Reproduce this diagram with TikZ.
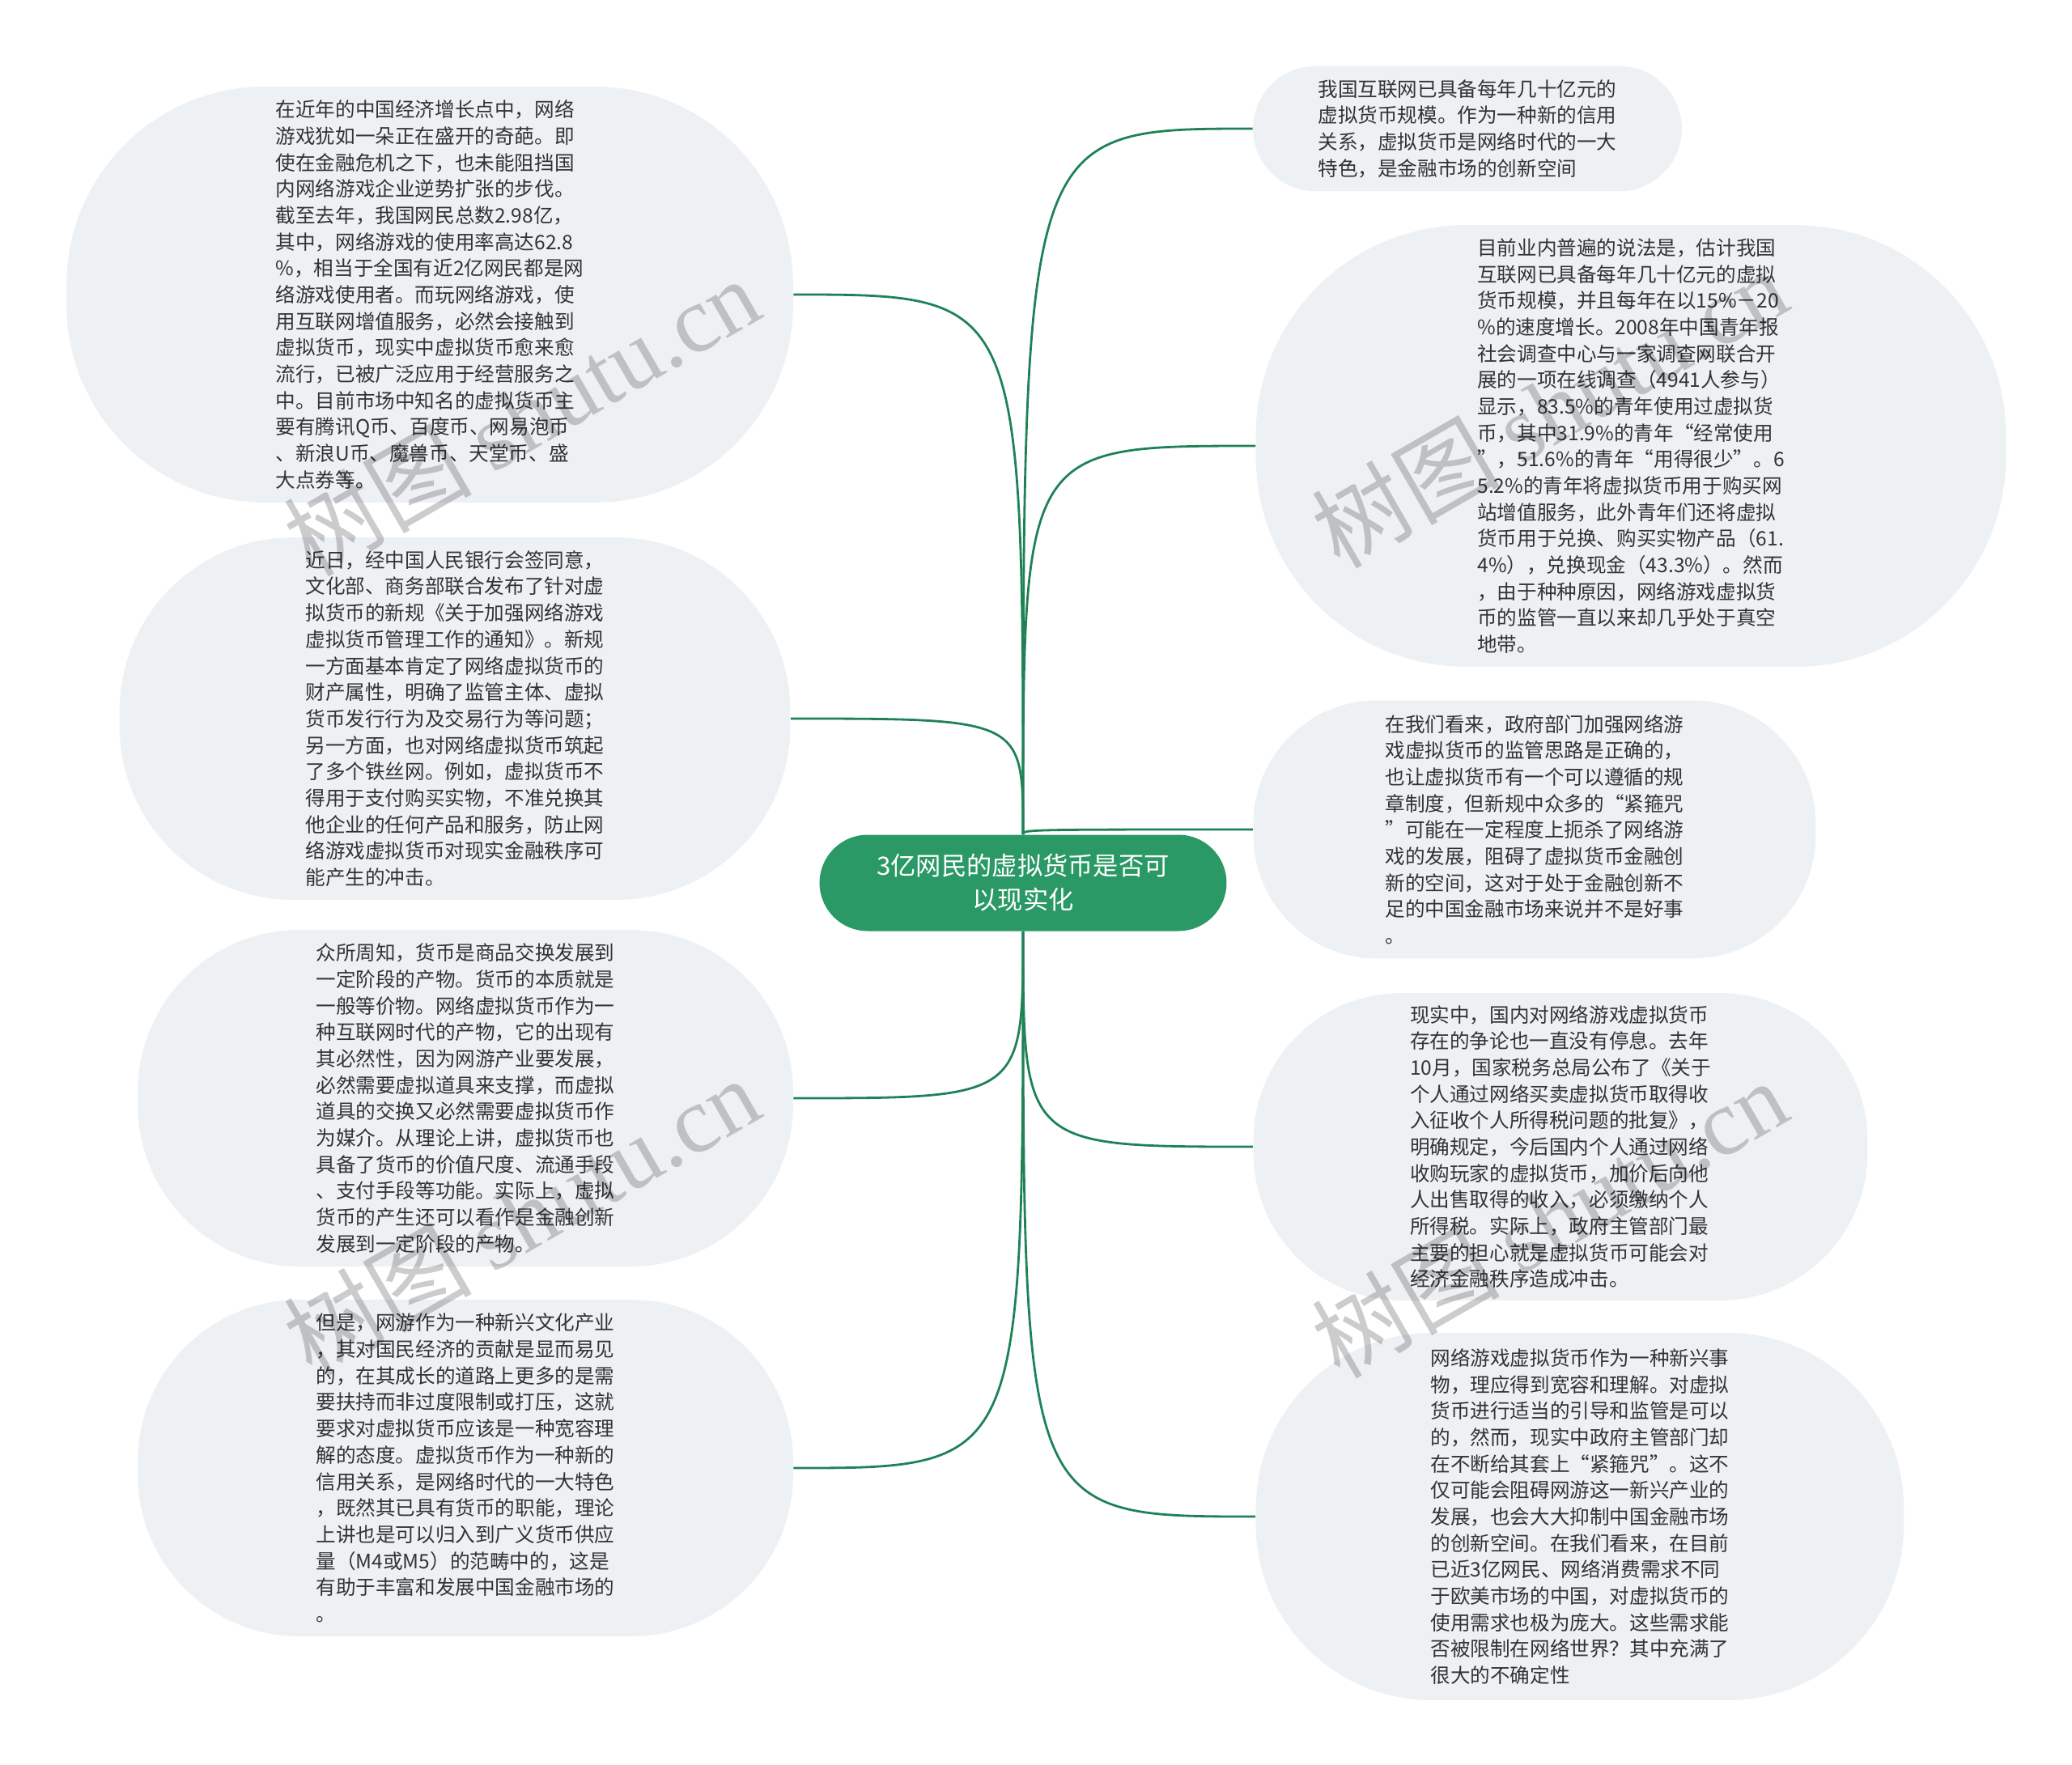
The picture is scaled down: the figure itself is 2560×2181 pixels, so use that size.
\documentclass[tikz,border=0pt]{standalone}
\usepackage{fontspec}
\usepackage{xcolor}
\usepackage{tikz}
\usetikzlibrary{positioning, backgrounds}

\newfontfamily\cjk{Noto Sans CJK SC}
\newfontfamily\wmserif{Liberation Serif}

\definecolor{rootgreen}{HTML}{2A9966}
\definecolor{linkgreen}{HTML}{1F8257}
\definecolor{leafgray}{HTML}{EEF1F4}
\definecolor{leaftext}{HTML}{333333}

\begin{document}
\begin{tikzpicture}[
    x=0.02cm, y=-0.02cm,
    leaf/.style={rectangle, rounded corners=#1, fill=leafgray, align=left,
      text=leaftext, inner sep=0pt, font=\cjk\fontsize{14pt}{18.6pt}\selectfont},
    root/.style={rectangle, rounded corners=1.19cm, fill=rootgreen, align=center,
      text=white, minimum width=10.06cm, minimum height=2.38cm,
      font=\cjk\fontsize{17.8pt}{24pt}\selectfont},
    link/.style={draw=linkgreen, line width=1.6pt},
    wmark/.style={text=black, text opacity=0.2, rotate=30,
      font=\cjk\fontsize{66pt}{68pt}\selectfont}
]
\useasboundingbox (0,0) rectangle (2560,2181);

\node (root) [root] at (1264,1091) {3亿网民的虚拟货币是否可\\以现实化};

% left side
\node (boom) [leaf=4.9cm, minimum width=17.96cm, minimum height=10.28cm] at (531,364) {在近年的中国经济增长点中，网络\\游戏犹如一朵正在盛开的奇葩。即\\使在金融危机之下，也未能阻挡国\\内网络游戏企业逆势扩张的步伐。\\截至去年，我国网民总数2.98亿，\\其中，网络游戏的使用率高达62.8\\\%，相当于全国有近2亿网民都是网\\络游戏使用者。而玩网络游戏，使\\用互联网增值服务，必然会接触到\\虚拟货币，现实中虚拟货币愈来愈\\流行，已被广泛应用于经营服务之\\中。目前市场中知名的虚拟货币主\\要有腾讯Q币、百度币、网易泡币\\、新浪U币、魔兽币、天堂币、盛\\大点券等。};
\node (newrule) [leaf=4.3cm, minimum width=16.58cm, minimum height=8.96cm] at (562,888) {近日，经中国人民银行会签同意，\\文化部、商务部联合发布了针对虚\\拟货币的新规《关于加强网络游戏\\虚拟货币管理工作的通知》。新规\\一方面基本肯定了网络虚拟货币的\\财产属性，明确了监管主体、虚拟\\货币发行行为及交易行为等问题；\\另一方面，也对网络虚拟货币筑起\\了多个铁丝网。例如，虚拟货币不\\得用于支付购买实物，不准兑换其\\他企业的任何产品和服务，防止网\\络游戏虚拟货币对现实金融秩序可\\能产生的冲击。};
\node (origin) [leaf=4cm, minimum width=16.2cm, minimum height=8.32cm] at (575,1357) {众所周知，货币是商品交换发展到\\一定阶段的产物。货币的本质就是\\一般等价物。网络虚拟货币作为一\\种互联网时代的产物，它的出现有\\其必然性，因为网游产业要发展，\\必然需要虚拟道具来支撑，而虚拟\\道具的交换又必然需要虚拟货币作\\为媒介。从理论上讲，虚拟货币也\\具备了货币的价值尺度、流通手段\\、支付手段等功能。实际上，虚拟\\货币的产生还可以看作是金融创新\\发展到一定阶段的产物。};
\node (support) [leaf=4cm, minimum width=16.2cm, minimum height=8.32cm] at (575,1814) {但是，网游作为一种新兴文化产业\\，其对国民经济的贡献是显而易见\\的，在其成长的道路上更多的是需\\要扶持而非过度限制或打压，这就\\要求对虚拟货币应该是一种宽容理\\解的态度。虚拟货币作为一种新的\\信用关系，是网络时代的一大特色\\，既然其已具有货币的职能，理论\\上讲也是可以归入到广义货币供应\\量（M4或M5）的范畴中的，这是\\有助于丰富和发展中国金融市场的\\。};

% right side
\node (scale) [leaf=1.55cm, minimum width=10.6cm, minimum height=3.1cm] at (1813,159) {我国互联网已具备每年几十亿元的\\虚拟货币规模。作为一种新的信用\\关系，虚拟货币是网络时代的一大\\特色，是金融市场的创新空间};
\node (survey) [leaf=5.2cm, minimum width=18.54cm, minimum height=10.92cm] at (2015,551) {目前业内普遍的说法是，估计我国\\互联网已具备每年几十亿元的虚拟\\货币规模，并且每年在以15\%－20\\\%的速度增长。2008年中国青年报\\社会调查中心与一家调查网联合开\\展的一项在线调查（4941人参与）\\显示，83.5\%的青年使用过虚拟货\\币，其中31.9\%的青年“经常使用\\”，51.6\%的青年“用得很少”。6\\5.2\%的青年将虚拟货币用于购买网\\站增值服务，此外青年们还将虚拟\\货币用于兑换、购买实物产品（61.\\4\%），兑换现金（43.3\%）。然而\\，由于种种原因，网络游戏虚拟货\\币的监管一直以来却几乎处于真空\\地带。};
\node (regulate) [leaf=3.05cm, minimum width=13.9cm, minimum height=6.38cm] at (1896,1025) {在我们看来，政府部门加强网络游\\戏虚拟货币的监管思路是正确的，\\也让虚拟货币有一个可以遵循的规\\章制度，但新规中众多的“紧箍咒\\”可能在一定程度上扼杀了网络游\\戏的发展，阻碍了虚拟货币金融创\\新的空间，这对于处于金融创新不\\足的中国金融市场来说并不是好事\\。};
\node (taxreply) [leaf=3.65cm, minimum width=15.18cm, minimum height=7.6cm] at (1928,1417) {现实中，国内对网络游戏虚拟货币\\存在的争论也一直没有停息。去年\\10月，国家税务总局公布了《关于\\个人通过网络买卖虚拟货币取得收\\入征收个人所得税问题的批复》，\\明确规定，今后国内个人通过网络\\收购玩家的虚拟货币，加价后向他\\人出售取得的收入，必须缴纳个人\\所得税。实际上，政府主管部门最\\主要的担心就是虚拟货币可能会对\\经济金融秩序造成冲击。};
\node (tolerance) [leaf=4.35cm, minimum width=16.02cm, minimum height=9.08cm] at (1952,1874) {网络游戏虚拟货币作为一种新兴事\\物，理应得到宽容和理解。对虚拟\\货币进行适当的引导和监管是可以\\的，然而，现实中政府主管部门却\\在不断给其套上“紧箍咒”。这不\\仅可能会阻碍网游这一新兴产业的\\发展，也会大大抑制中国金融市场\\的创新空间。在我们看来，在目前\\已近3亿网民、网络消费需求不同\\于欧美市场的中国，对虚拟货币的\\使用需求也极为庞大。这些需求能\\否被限制在网络世界？其中充满了\\很大的不确定性};

\begin{scope}[on background layer]
\draw[link] (root.north) .. controls (root.north |- boom.east) .. (boom.east);
\draw[link] (root.north) .. controls (root.north |- newrule.east) .. (newrule.east);
\draw[link] (root.south) .. controls (root.south |- origin.east) .. (origin.east);
\draw[link] (root.south) .. controls (root.south |- support.east) .. (support.east);
\draw[link] (root.north) .. controls (root.north |- scale.west) .. (scale.west);
\draw[link] (root.north) .. controls (root.north |- survey.west) .. (survey.west);
\draw[link] (root.north) .. controls (root.north |- regulate.west) .. (regulate.west);
\draw[link] (root.south) .. controls (root.south |- taxreply.west) .. (taxreply.west);
\draw[link] (root.south) .. controls (root.south |- tolerance.west) .. (tolerance.west);
\end{scope}

% watermarks
\node (wm1) [wmark] at (644,514) {树图 {\wmserif shutu.cn}};
\node (wm2) [wmark] at (1914,504) {树图 {\wmserif shutu.cn}};
\node (wm3) [wmark] at (644,1502) {树图 {\wmserif shutu.cn}};
\node (wm4) [wmark] at (1914,1505) {树图 {\wmserif shutu.cn}};
\end{tikzpicture}
\end{document}
